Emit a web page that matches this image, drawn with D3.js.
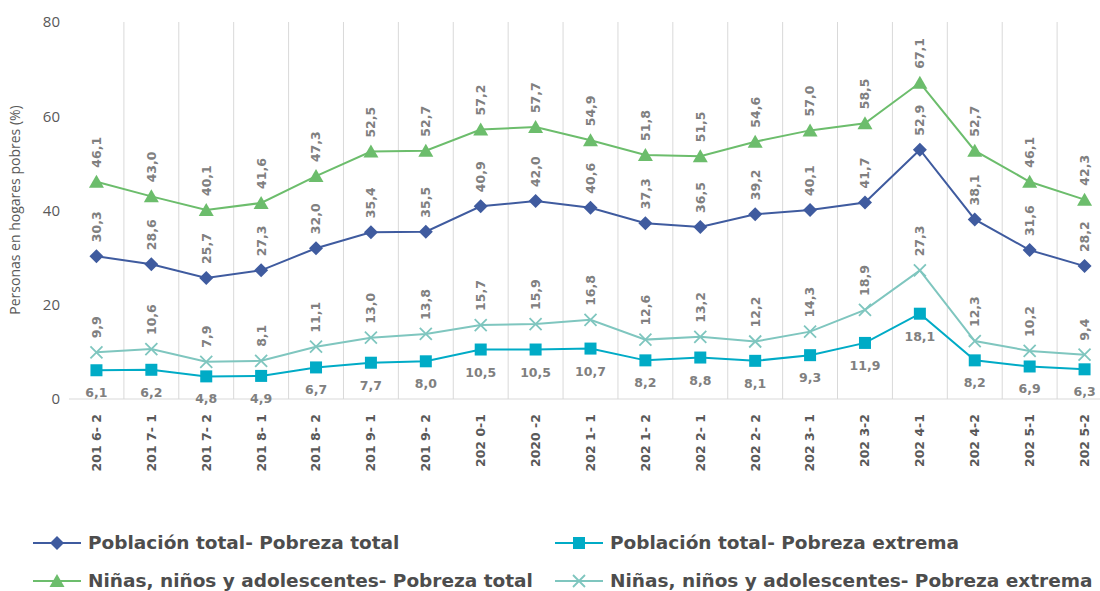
<!DOCTYPE html>
<html>
<head>
<meta charset="utf-8">
<script src="https://cdn.jsdelivr.net/npm/d3@7"></script>
<style>
  body { margin: 0; background: #fff; }
</style>
</head>
<body>
<script>
// data
var periods = ["201 6- 2", "201 7- 1", "201 7- 2", "201 8- 1", "201 8- 2", "201 9- 1", "201 9- 2",
  "202 0-1", "2020 -2", "202 1- 1", "202 1- 2", "202 2- 1", "202 2- 2", "202 3- 1", "202 3-2",
  "202 4-1", "202 4-2", "202 5-1", "202 5-2"];
var pobTotal = [30.3, 28.6, 25.7, 27.3, 32.0, 35.4, 35.5, 40.9, 42.0, 40.6, 37.3, 36.5, 39.2, 40.1, 41.7, 52.9, 38.1, 31.6, 28.2];
var pobExtrema = [6.1, 6.2, 4.8, 4.9, 6.7, 7.7, 8.0, 10.5, 10.5, 10.7, 8.2, 8.8, 8.1, 9.3, 11.9, 18.1, 8.2, 6.9, 6.3];
var nnaTotal = [46.1, 43.0, 40.1, 41.6, 47.3, 52.5, 52.7, 57.2, 57.7, 54.9, 51.8, 51.5, 54.6, 57.0, 58.5, 67.1, 52.7, 46.1, 42.3];
var nnaExtrema = [9.9, 10.6, 7.9, 8.1, 11.1, 13.0, 13.8, 15.7, 15.9, 16.8, 12.6, 13.2, 12.2, 14.3, 18.9, 27.3, 12.3, 10.2, 9.4];
var yTicks = [0, 20, 40, 60, 80];

var series = [
  {name: "Población total- Pobreza total", values: pobTotal, color: "#3f5b9f", marker: "diamond", below: false},
  {name: "Población total- Pobreza extrema", values: pobExtrema, color: "#00abc6", marker: "square", below: true},
  {name: "Niñas, niños y adolescentes- Pobreza total", values: nnaTotal, color: "#6cbd6c", marker: "triangle", below: false},
  {name: "Niñas, niños y adolescentes- Pobreza extrema", values: nnaExtrema, color: "#7fc6bf", marker: "cross", below: false}
];

var boldFont = "'DejaVu Sans', sans-serif";
var lightFont = "'Open Sans', sans-serif";

var w = 1100, h = 591;
var svg = d3.select("body").append("svg")
  .attr("width", w)
  .attr("height", h);

var x = d3.scaleBand().domain(periods).range([69, 1112]);
var y = d3.scaleLinear().domain([0, 80]).range([399, 22]);

// vertical grid lines at category edges
svg.append("g").selectAll("line")
  .data(periods.slice(1))
  .join("line")
  .attr("x1", function(d) { return x(d); })
  .attr("x2", function(d) { return x(d); })
  .attr("y1", y(80))
  .attr("y2", y(0))
  .attr("stroke", "#d9d9d9")
  .attr("stroke-width", 1);

// baseline
svg.append("line")
  .attr("x1", 69).attr("x2", 1112)
  .attr("y1", y(0)).attr("y2", y(0))
  .attr("stroke", "#d9d9d9");

// y axis
var yAxis = svg.append("g")
  .attr("transform", "translate(60,0)")
  .call(d3.axisLeft(y).tickValues(yTicks).tickSize(0).tickPadding(0));
yAxis.select(".domain").remove();
yAxis.selectAll("text")
  .style("font-size", "15px")
  .style("font-family", lightFont)
  .attr("fill", "#595959");

svg.append("text")
  .attr("transform", "translate(20,210) rotate(-90)")
  .attr("text-anchor", "middle")
  .style("font-size", "14px")
  .style("font-family", lightFont)
  .attr("fill", "#595959")
  .text("Personas en hogares pobres (%)");

// x axis labels
var xAxis = svg.append("g")
  .attr("transform", "translate(0," + y(0) + ")")
  .call(d3.axisBottom(x).tickSize(0).tickPadding(0));
xAxis.select(".domain").remove();
xAxis.selectAll("text")
  .attr("transform", "rotate(-90)")
  .attr("text-anchor", "end")
  .attr("x", -15)
  .attr("y", 0)
  .attr("dy", "0.35em")
  .style("font-size", "12.5px")
  .style("font-weight", "bold")
  .style("font-family", boldFont)
  .attr("fill", "#595959");

var cx = function(i) { return x(periods[i]) + x.bandwidth() / 2; };

function drawMarker(g, type, color) {
  if (type === "diamond") {
    g.append("path").attr("d", "M0,-7L7,0L0,7L-7,0Z").attr("fill", color);
  } else if (type === "square") {
    g.append("rect").attr("x", -6).attr("y", -6).attr("width", 12).attr("height", 12).attr("fill", color);
  } else if (type === "triangle") {
    g.append("path").attr("d", "M0,-7L7.5,6L-7.5,6Z").attr("fill", color);
  } else {
    g.append("path").attr("d", "M-6,-6L6,6M-6,6L6,-6").attr("stroke", color).attr("stroke-width", 1.8).attr("fill", "none");
  }
}

var line = d3.line()
  .x(function(d, i) { return cx(i); })
  .y(function(d) { return y(d); });

series.forEach(function(s) {
  var g = svg.append("g");
  g.append("path")
    .datum(s.values)
    .attr("d", line)
    .attr("fill", "none")
    .attr("stroke", s.color)
    .attr("stroke-width", 2);

  g.selectAll("g.pt")
    .data(s.values)
    .join("g")
    .attr("class", "pt")
    .attr("transform", function(d, i) { return "translate(" + cx(i) + "," + y(d) + ")"; })
    .each(function() { drawMarker(d3.select(this), s.marker, s.color); });

  var fmt = function(d) { return d.toFixed(1).replace(".", ","); };
  var labs = g.selectAll("text.lab")
    .data(s.values)
    .join("text")
    .attr("class", "lab")
    .style("font-size", "12.5px")
    .style("font-weight", "bold")
    .style("font-family", boldFont)
    .attr("fill", "#808080")
    .text(fmt);
  if (s.below) {
    labs.attr("x", function(d, i) { return cx(i); })
      .attr("y", function(d) { return y(d) + 27; })
      .attr("text-anchor", "middle");
  } else {
    labs.attr("transform", function(d, i) { return "translate(" + cx(i) + "," + (y(d) - 14) + ") rotate(-90)"; })
      .attr("dy", "0.35em");
  }
});

// legend
var legendPos = [[33, 543], [555, 543], [33, 581], [555, 581]];
series.forEach(function(s, i) {
  var lg = svg.append("g").attr("transform", "translate(" + legendPos[i][0] + "," + legendPos[i][1] + ")");
  lg.append("line").attr("x1", 0).attr("x2", 48).attr("stroke", s.color).attr("stroke-width", 2);
  var m = lg.append("g").attr("transform", "translate(24,0)");
  drawMarker(m, s.marker, s.color);
  lg.append("text")
    .attr("x", 55)
    .attr("dy", "0.35em")
    .style("font-size", "18.5px")
    .style("font-weight", "bold")
    .style("font-family", boldFont)
    .attr("fill", "#4d4d4d")
    .text(s.name);
});
</script>
</body>
</html>
